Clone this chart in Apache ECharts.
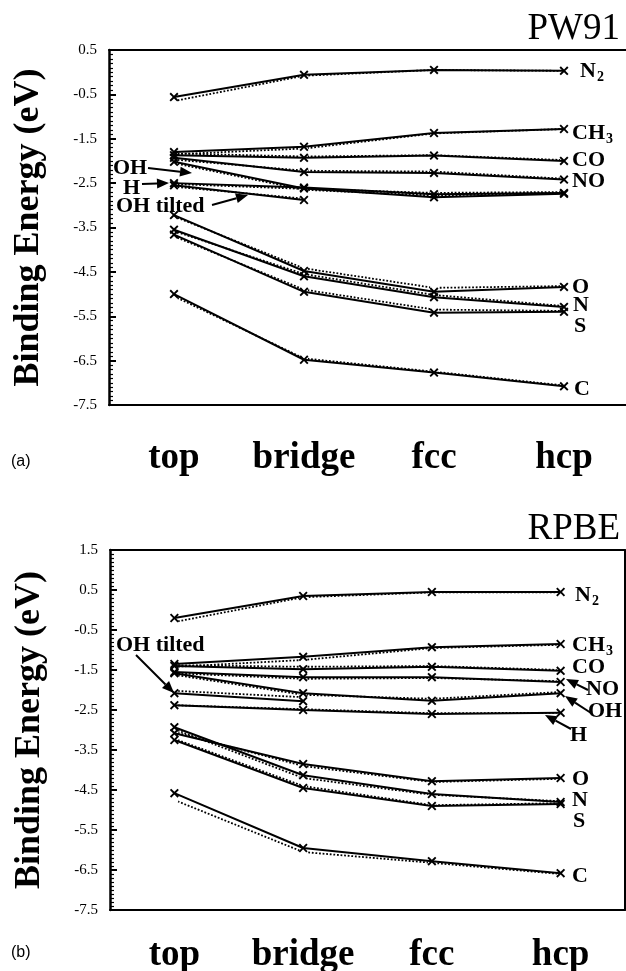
<!DOCTYPE html>
<html>
<head>
<meta charset="utf-8">
<script src="https://cdn.jsdelivr.net/npm/echarts@6/dist/echarts.min.js"></script>
<style>
html, body { margin: 0; padding: 0; background: #fff; }
#main { width: 626px; height: 971px; }
</style>
</head>
<body>
<div id="main"></div>
<script>
// adsorption sites (x categories)
var sites = ['top', 'bridge', 'fcc', 'hcp'];
var pwTicks = [-7.5, 0.5];
var rpTicks = [-7.5, 1.5];

// PW91 : solid line (x markers) and dotted line (circles)
var pwN2 = [-0.56, -0.06, 0.05, 0.03];
var pwN2d = [-0.65, -0.08, 0.05, 0.03];
var pwCH3 = [-1.80, -1.68, -1.37, -1.28];
var pwCH3d = [-1.85, -1.72, -1.38, -1.28];
var pwCO = [-1.87, -1.93, -1.88, -2.00];
var pwCOd = [-1.83, -1.90, -1.87, -1.98];
var pwNO = [-1.93, -2.25, -2.27, -2.42];
var pwNOd = [-1.97, -2.22, -2.24, -2.40];
var pwOH = [-2.02, -2.62, -2.82, -2.74];
var pwOHd = [-2.05, -2.65, -2.78, -2.72];
var pwH = [-2.50, -2.60, -2.75, -2.72];
var pwHd = [-2.52, -2.63, -2.72, -2.70];
var pwOHt = [-2.55, -2.88, null, null];
var pwOHtd = [-2.58, -2.85, null, null];
var pwO = [-3.22, -4.48, -4.95, -4.84];
var pwOd = [-3.25, -4.42, -4.86, -4.82];
var pwN = [-3.55, -4.60, -5.07, -5.29];
var pwNd = [-3.58, -4.55, -5.02, -5.27];
var pwS = [-3.66, -4.95, -5.42, -5.40];
var pwSd = [-3.70, -4.90, -5.35, -5.38];
var pwC = [-5.00, -6.48, -6.77, -7.08];
var pwCd = [-5.05, -6.45, -6.75, -7.06];

// RPBE
var rpN2 = [-0.20, 0.35, 0.45, 0.45];
var rpN2d = [-0.30, 0.32, 0.44, 0.44];
var rpCH3 = [-1.35, -1.17, -0.93, -0.85];
var rpCH3d = [-1.42, -1.25, -0.95, -0.87];
var rpCO = [-1.40, -1.48, -1.42, -1.52];
var rpCOd = [-1.38, -1.42, -1.40, -1.50];
var rpNO = [-1.55, -1.68, -1.68, -1.80];
var rpNOd = [-1.58, -1.72, -1.70, -1.78];
var rpOH = [-1.58, -2.08, -2.27, -2.08];
var rpOHd = [-1.62, -2.12, -2.22, -2.05];
var rpOHt = [-2.08, -2.28, null, null];
var rpOHtd = [-2.02, -2.18, null, null];
var rpH = [-2.38, -2.50, -2.60, -2.57];
var rpHd = [-2.38, -2.48, -2.58, -2.57];
var rpO = [-3.08, -3.85, -4.28, -4.20];
var rpOd = [-3.05, -3.90, -4.30, -4.22];
var rpN = [-2.93, -4.13, -4.60, -4.80];
var rpNd = [-2.98, -4.20, -4.62, -4.78];
var rpS = [-3.25, -4.45, -4.90, -4.85];
var rpSd = [-3.22, -4.40, -4.88, -4.83];
var rpC = [-4.58, -5.95, -6.28, -6.58];
var rpCd = [-4.75, -6.05, -6.32, -6.60];

var pw91 = [
    ['N2', pwN2, pwN2d], ['CH3', pwCH3, pwCH3d], ['CO', pwCO, pwCOd], ['NO', pwNO, pwNOd],
    ['OH', pwOH, pwOHd], ['H', pwH, pwHd], ['OH tilted', pwOHt, pwOHtd],
    ['O', pwO, pwOd], ['N', pwN, pwNd], ['S', pwS, pwSd], ['C', pwC, pwCd]
];
var rpbe = [
    ['N2', rpN2, rpN2d], ['CH3', rpCH3, rpCH3d], ['CO', rpCO, rpCOd], ['NO', rpNO, rpNOd],
    ['OH', rpOH, rpOHd], ['H', rpH, rpHd], ['OH tilted', rpOHt, rpOHtd],
    ['O', rpO, rpOd], ['N', rpN, rpNd], ['S', rpS, rpSd], ['C', rpC, rpCd]
];

var serif = '"Liberation Serif", "DejaVu Serif", serif';
var xMark = 'path://M0,1.5L1.5,0L5,3.5L8.5,0L10,1.5L6.5,5L10,8.5L8.5,10L5,6.5L1.5,10L0,8.5L3.5,5Z';

var series = [];
function addPanel(list, idx) {
    for (var i = 0; i < list.length; i++) {
        series.push({
            name: list[i][0], type: 'line', xAxisIndex: idx, yAxisIndex: idx,
            data: list[i][1], symbol: xMark, symbolSize: 9, z: 3,
            lineStyle: {color: '#000', width: 2},
            itemStyle: {color: '#000'}, animation: false
        });
        series.push({
            name: list[i][0] + ' dot', type: 'line', xAxisIndex: idx, yAxisIndex: idx,
            data: list[i][2], symbol: 'emptyCircle', symbolSize: 6, z: 2,
            lineStyle: {color: '#000', width: 1.8, type: 'dotted'},
            itemStyle: {color: '#fff', borderColor: '#000', borderWidth: 1.5}, animation: false
        });
    }
}
addPanel(pw91, 0);
addPanel(rpbe, 1);

function xCat(grid, margin) {
    return {
        type: 'category', gridIndex: grid, data: sites, boundaryGap: true,
        axisLine: {onZero: false, lineStyle: {color: '#000', width: 2}},
        axisTick: {show: false},
        axisLabel: {interval: 0, color: '#000', fontFamily: serif, fontWeight: 'bold', fontSize: 37, margin: margin}
    };
}
function xTop(grid) {
    return {
        type: 'category', gridIndex: grid, data: sites, position: 'top',
        axisLine: {onZero: false, lineStyle: {color: '#000', width: 2}},
        axisTick: {show: false}, axisLabel: {show: false}
    };
}
function yVal(grid, ticks) {
    return {
        type: 'value', gridIndex: grid, min: ticks[0], max: ticks[1], interval: 1,
        name: 'Binding Energy (eV)', nameLocation: 'middle', nameGap: 62,
        nameTextStyle: {color: '#000', fontFamily: serif, fontWeight: 'bold', fontSize: 36},
        splitLine: {show: false},
        axisLine: {show: true, lineStyle: {color: '#000', width: 2.5}},
        axisTick: {show: true, inside: true, length: 7, lineStyle: {color: '#000', width: 2}},
        minorTick: {show: true, splitNumber: 10, length: 4, lineStyle: {color: '#000', width: 1.2}},
        axisLabel: {color: '#000', fontFamily: serif, fontSize: 15, margin: 12,
            formatter: function (v) { return v.toFixed(1); }}
    };
}

function txt(x, y, s, size, opt) {
    opt = opt || {};
    return {
        type: 'text', x: x, y: y, z: 10,
        style: {text: s, fill: '#000', verticalAlign: 'middle', align: opt.align || 'left',
            font: (opt.normal ? '' : 'bold ') + size + 'px ' + (opt.sans ? '"Liberation Sans", sans-serif' : serif)}
    };
}
function sub(x, y, base, s) {
    return [txt(x, y, base, 22), txt(x + (base.length === 1 ? 17 : 34), y + 6, s, 14)];
}
function arrow(x1, y1, x2, y2) {
    var a = Math.atan2(y2 - y1, x2 - x1), L = 12, W = 5;
    var bx = x2 - L * Math.cos(a), by = y2 - L * Math.sin(a);
    return [
        {type: 'line', z: 10, shape: {x1: x1, y1: y1, x2: bx, y2: by}, style: {stroke: '#000', lineWidth: 2}},
        {type: 'polygon', z: 10, shape: {points: [[x2, y2],
            [bx + W * Math.sin(a), by - W * Math.cos(a)], [bx - W * Math.sin(a), by + W * Math.cos(a)]]},
            style: {fill: '#000'}}
    ];
}

var graphic = [].concat(
    txt(620, 29, 'PW91', 37, {align: 'right', normal: true}),
    txt(620, 529, 'RPBE', 37, {align: 'right', normal: true}),
    txt(11, 462, '(a)', 16, {normal: true, sans: true}),
    txt(11, 953, '(b)', 16, {normal: true, sans: true}),
    // PW91 right labels
    sub(580, 71, 'N', '2'), sub(572, 133, 'CH', '3'),
    txt(572, 160, 'CO', 22), txt(572, 181, 'NO', 22),
    txt(572, 287, 'O', 22), txt(573, 305, 'N', 22), txt(574, 326, 'S', 22), txt(574, 389, 'C', 22),
    // PW91 left annotations
    txt(113, 168, 'OH', 22), arrow(148, 168, 192, 173),
    txt(123, 188, 'H', 22), arrow(142, 184, 169, 183),
    txt(116, 206, 'OH tilted', 22), arrow(212, 205, 248, 195),
    // RPBE right labels
    sub(575, 595, 'N', '2'), sub(572, 645, 'CH', '3'),
    txt(572, 667, 'CO', 22), txt(586, 689, 'NO', 22), arrow(588, 690, 566, 679),
    txt(588, 711, 'OH', 22), arrow(591, 713, 565, 696),
    txt(570, 735, 'H', 22), arrow(571, 729, 545, 715),
    txt(572, 779, 'O', 22), txt(572, 800, 'N', 22), txt(573, 821, 'S', 22), txt(572, 876, 'C', 22),
    // RPBE left annotation
    txt(116, 645, 'OH tilted', 22), arrow(136, 655, 174, 693)
);

var chart = echarts.init(document.getElementById('main'));
chart.setOption({
    backgroundColor: '#fff',
    animation: false,
    grid: [
        {left: 109, top: 50, width: 520, height: 355, outerBoundsMode: 'none', containLabel: false},
        {left: 110, top: 550, width: 515, height: 360, outerBoundsMode: 'none', containLabel: false}
    ],
    xAxis: [xCat(0, 35), xCat(1, 27), xTop(0), xTop(1)],
    yAxis: [
        yVal(0, pwTicks), yVal(1, rpTicks),
        {type: 'value', gridIndex: 1, position: 'right', min: rpTicks[0], max: rpTicks[1],
            axisLine: {show: true, lineStyle: {color: '#000', width: 2}},
            axisTick: {show: false}, axisLabel: {show: false}, splitLine: {show: false}}
    ],
    series: series,
    graphic: graphic
});
</script>
</body>
</html>
